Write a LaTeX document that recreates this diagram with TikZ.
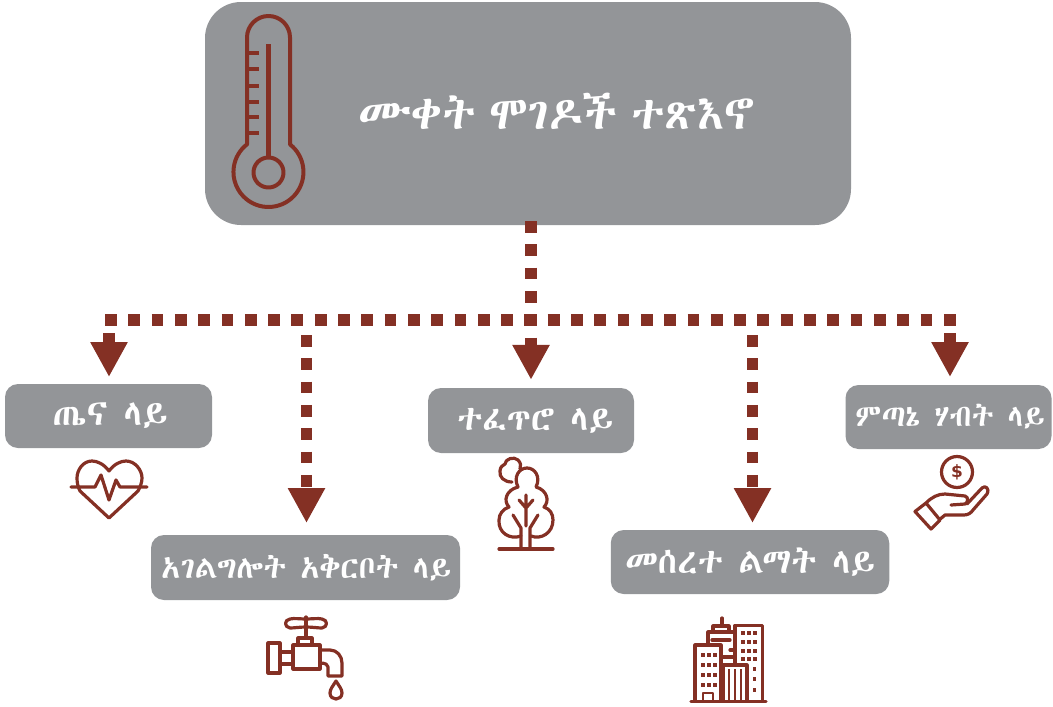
\documentclass[tikz,border=0pt]{standalone}
\usepackage{fontspec}
\usetikzlibrary{arrows.meta}
\IfFontExistsTF{Abyssinica SIL}{\newfontfamily\ethfont{Abyssinica SIL}}{\IfFontExistsTF{FreeSerif}{\newfontfamily\ethfont{FreeSerif}}{\newfontfamily\ethfont{DejaVu Sans}}}
\setsansfont{DejaVu Sans}
\definecolor{boxgrey}{HTML}{939598}
\definecolor{brick}{HTML}{843024}
\tikzset{
  greybox/.style={fill=boxgrey,rounded corners=13pt,inner sep=0pt,text=white,font=\ethfont\fontsize{34}{38}\selectfont,anchor=center},
  dashlink/.style={brick,line width=11.8pt,dash pattern=on 11.8pt off 11.5pt},
  arrowlink/.style={dashlink,-{Triangle[width=35pt,length=35pt]}},
  icon/.style={brick,line width=3.2pt,line join=round,line cap=round},
}
\begin{document}
\begin{tikzpicture}[x=1pt,y=1pt,yscale=-1]
\useasboundingbox (0,0) rectangle (1053,707);
% boxes
\node[greybox,rounded corners=36pt,minimum width=646pt,minimum height=223pt] (main) at (528,113.5) {};
\node[text=white,font=\ethfont\fontsize{46}{52}\selectfont] (maintext) at (557,111) {\spaceskip=14pt ሙቀት ሞገዶች ተጽእኖ};
\node[greybox,minimum width=207pt,minimum height=64pt,font=\ethfont\fontsize{36}{40}\selectfont] (health) at (108.5,416) {\hspace*{3pt}ጤና ላይ};
\node[greybox,minimum width=309pt,minimum height=65pt,font=\ethfont\fontsize{31.5}{36}\selectfont] (service) at (305.5,567.5) {\hspace*{1pt}አገልግሎት አቅርቦት ላይ};
\node[greybox,minimum width=206pt,minimum height=65pt,font=\ethfont\fontsize{35}{40}\selectfont] (nature) at (531,420.5) {\hspace*{8pt}ተፈጥሮ ላይ};
\node[greybox,minimum width=278.5pt,minimum height=64pt,font=\ethfont\fontsize{35}{40}\selectfont] (infra) at (750,562) {መሰረተ ልማት ላይ};
\node[greybox,minimum width=206pt,minimum height=64pt,font=\ethfont\fontsize{30.5}{36}\selectfont] (econ) at (948.5,417) {\hspace*{3pt}ምጣኔ ሃብት ላይ};
% connectors
\coordinate (railL) at (105,320);
\coordinate (railR) at (956,320);
\coordinate (startA) at (109,333);
\coordinate (startB) at (306.5,335);
\coordinate (startD) at (752.5,335);
\coordinate (startE) at (950,333);
\coordinate (trunk) at (531,221);
\draw[dashlink] (railL) -- (railR);
\draw[arrowlink,shorten >=8pt] (trunk) -- (nature.north);
\draw[arrowlink] (startA) -- (startA|-0,377);
\draw[arrowlink] (startB) -- (startB|-0,523);
\draw[arrowlink] (startD) -- (startD|-0,523);
\draw[arrowlink] (startE) -- (startE|-0,377);
% thermometer
\begin{scope}[brick,line width=4pt,line join=round]
\draw (247,144.4) -- (247,37.5) arc[start angle=180,end angle=360,radius=21.5] -- (290,144.4) arc[start angle=-52,end angle=232,radius=35] -- cycle;
\draw (268.5,172.5) circle[radius=15];
\draw[line width=4.5pt] (268.5,44) -- (268.5,157);
\foreach \ty in {53,69,86,102,117,133} \draw[line width=4.5pt] (247,\ty) -- (259,\ty);
\end{scope}
% heart
\draw[icon] (109,471) .. controls (104,464) and (97,461) .. (92,461) .. controls (83,461) and (77,470) .. (77,478) .. controls (77,483) and (78,487) .. (80,491) -- (109,518) -- (138,491) .. controls (140,487) and (142,483) .. (142,478) .. controls (142,470) and (135,461) .. (126,461) .. controls (121,461) and (114,464) .. (109,471) -- cycle;
\draw[icon] (71,487) -- (95,487) -- (101,475) -- (109,500) -- (116,480) -- (120,487) -- (147,487);
% faucet
\draw[icon] (306,617) -- (306,638);
\draw[icon] (306,619) .. controls (300,619) and (294,618) .. (290,619) .. controls (284,620) and (284,627) .. (290,628) .. controls (294,628) and (300,627) .. (306,627) .. controls (312,627) and (318,628) .. (322,628) .. controls (328,627) and (328,620) .. (322,619) .. controls (318,618) and (312,619) .. (306,619) -- cycle;
\draw[icon] (298,645) -- (298,638) -- (312,638) -- (312,645);
\draw[icon] (293,645) rectangle (320,669);
\draw[icon] (320,650) -- (330,650) .. controls (337,650) and (342,656) .. (342,663) -- (342,676) -- (328,676) -- (328,667) .. controls (328,665) and (326,663) .. (320,663);
\draw[icon] (280,652) -- (293,652) (280,664) -- (293,664);
\draw[icon] (268,643) rectangle (280,673);
\draw[icon] (336,681) .. controls (333,686) and (330,689) .. (330,693) .. controls (330,697) and (333,699) .. (336,699) .. controls (339,699) and (342,697) .. (342,693) .. controls (342,689) and (339,686) .. (336,681) -- cycle;
% tree
\draw[icon] (521,536) .. controls (510,540) and (498,533) .. (499,520) .. controls (499,514) and (503,509) .. (509,507) .. controls (503,501) and (506,490) .. (518,487) .. controls (513,477) and (519,468) .. (527,468) .. controls (535,468) and (541,477) .. (536,487) .. controls (547,490) and (550,501) .. (544,507) .. controls (550,509) and (553,514) .. (553,520) .. controls (553,533) and (541,540) .. (531,536);
\draw[icon] (512,482) .. controls (504,482) and (499,477) .. (500,471) .. controls (500,467) and (503,465) .. (505,464) .. controls (505,459) and (514,456) .. (518,460) .. controls (521,463) and (521,466) .. (520,469);
\draw[icon] (521,549) -- (521,528) -- (513,515) (530,549) -- (530,528) -- (538,515);
\draw[icon] (526,526) -- (526,495) (526,508) -- (519,500) (526,508) -- (533,500);
\draw[icon] (499,549) -- (553,549);
% money
\draw[icon] (957,472) circle[radius=15.5];
\node[text=brick,font=\sffamily\bfseries\fontsize{17}{17}\selectfont,inner sep=0pt] (dollar) at (957,472) {\$};
\draw[icon] (915,511.5) -- (926,503) -- (940,520) -- (931,529) -- cycle;
\draw[icon] (926,503) .. controls (932,497) and (938,494) .. (945,494) -- (965,496) .. controls (969,497) and (968,503) .. (965,504) -- (951,505);
\draw[icon] (967,504) -- (982,488) .. controls (985,485) and (990,488) .. (987,494) -- (973,510) .. controls (971,513) and (968,515) .. (964,515) -- (945,515) -- (939,520);
% buildings
\begin{scope}[brick]
\draw[icon] (691,701.5) -- (766,701.5);
\draw[icon] (695,701) -- (695,645) -- (721,645) -- (721,701);
\draw[icon] (708,645) -- (708,632) -- (735,632) (713,632) -- (713,626) -- (729,626) -- (729,632);
\draw[icon] (722,625) -- (722,618);
\draw[icon] (735,665) -- (735,625.5) -- (762.5,625.5) -- (762.5,701);
\draw[icon] (723,701) -- (723,665) -- (747,665) -- (747,701);
\draw[icon] (712,640) -- (730,640) (730,650) -- (735,650) (721,657) -- (735,657);
\draw[line width=2.6pt] (729,669) -- (729,700) (735,669) -- (735,700) (741,669) -- (741,700);
\draw[icon,line width=2.4pt] (703,701) -- (703,693) -- (713,693) -- (713,701);
\foreach \wy in {655,665,675,685}
  \foreach \wx in {703,709,715}
    \fill (\wx-1.7,\wy-2.2) rectangle (\wx+1.7,\wy+2.2);
\foreach \wy in {633,642,651,659}
  \foreach \wx in {743,749,755}
    \fill (\wx-1.7,\wy-2.2) rectangle (\wx+1.7,\wy+2.2);
\foreach \wy in {669,679,690}
  \fill (753,\wy-2.2) rectangle (756.4,\wy+2.2);
\end{scope}
\end{tikzpicture}
\end{document}
